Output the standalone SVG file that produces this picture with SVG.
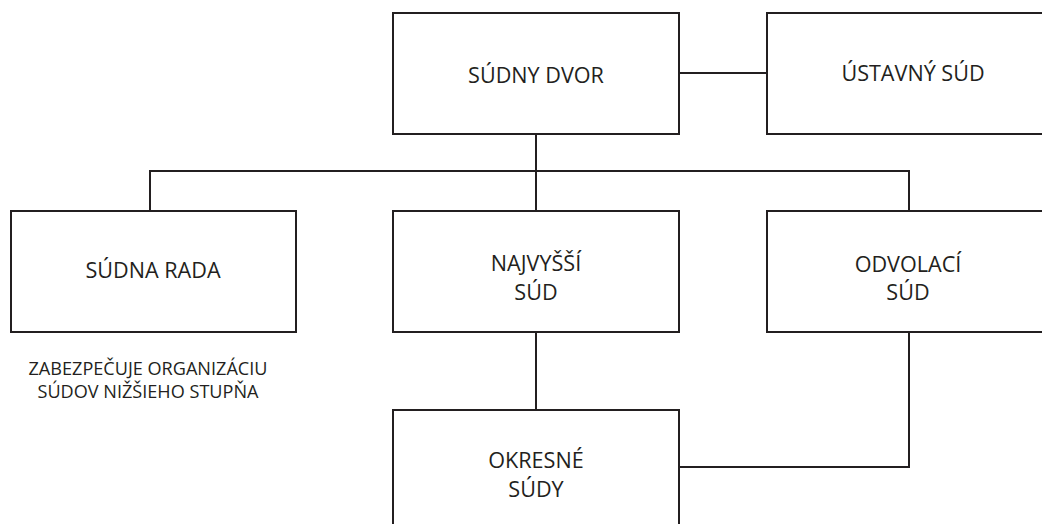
<svg xmlns="http://www.w3.org/2000/svg" width="1042" height="524" viewBox="0 0 1042 524">
<style>
.box{fill:#fff;stroke:#231f20;stroke-width:2}
.ln{fill:none;stroke:#231f20;stroke-width:2}
.t{font-family:"Open Sans","Liberation Sans",sans-serif;font-size:21.6px;fill:#231f20;text-anchor:middle}
.n{font-family:"Open Sans","Liberation Sans",sans-serif;font-size:18.1px;fill:#231f20;text-anchor:middle}
</style>
<rect width="1042" height="524" fill="#fff"/>
<g id="connectors">
<path class="ln" d="M679 73H767"/>
<path class="ln" d="M536 134V211"/>
<path class="ln" d="M150 211V171H909V211"/>
<path class="ln" d="M536 332V410"/>
<path class="ln" d="M909 332V467H679"/>
</g>
<g id="sudny-dvor">
<rect class="box" x="393" y="13" width="286" height="121"/>
<text class="t" x="536" y="83">SÚDNY DVOR</text>
</g>
<g id="ustavny-sud">
<rect class="box" x="767" y="13" width="290" height="121"/>
<text class="t" x="913" y="81">ÚSTAVNÝ SÚD</text>
</g>
<g id="sudna-rada">
<rect class="box" x="11" y="211" width="285" height="121"/>
<text class="t" x="153" y="278">SÚDNA RADA</text>
</g>
<g id="najvyssi-sud">
<rect class="box" x="393" y="211" width="286" height="121"/>
<text class="t" x="536" y="271">NAJVYŠŠÍ</text>
<text class="t" x="536" y="300">SÚD</text>
</g>
<g id="odvolaci-sud">
<rect class="box" x="767" y="211" width="290" height="121"/>
<text class="t" x="908" y="272">ODVOLACÍ</text>
<text class="t" x="908" y="300">SÚD</text>
</g>
<g id="okresne-sudy">
<rect class="box" x="393" y="410" width="286" height="130"/>
<text class="t" x="536" y="468">OKRESNÉ</text>
<text class="t" x="536" y="497">SÚDY</text>
</g>
<g id="note">
<text class="n" x="148" y="375">ZABEZPEČUJE ORGANIZÁCIU</text>
<text class="n" x="148" y="398">SÚDOV NIŽŠIEHO STUPŇA</text>
</g>
</svg>
